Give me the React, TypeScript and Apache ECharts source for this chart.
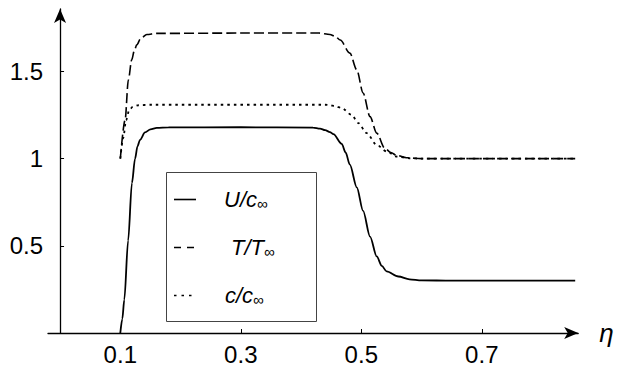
import React, { useEffect, useRef } from "react";
import * as echarts from "echarts";

// ---- data ----
const etaU = [0.1, 0.1033, 0.1066, 0.113, 0.1193, 0.1245, 0.1285, 0.1328, 0.141, 0.15, 0.1605, 0.18, 0.3, 0.42, 0.4315, 0.44, 0.448, 0.4537, 0.4675, 0.474, 0.481, 0.4925, 0.503, 0.5145, 0.5256, 0.534, 0.542, 0.5615, 0.58, 0.6, 0.65, 0.855];
const valU = [0, 0.08, 0.19, 0.53, 0.86, 1.0, 1.07, 1.108, 1.15, 1.168, 1.176, 1.179, 1.18, 1.178, 1.172, 1.163, 1.152, 1.14, 1.085, 1.035, 0.965, 0.835, 0.7, 0.553, 0.439, 0.385, 0.353, 0.324, 0.308, 0.302, 0.3, 0.3];

const etaT = [0.1, 0.1079, 0.1134, 0.119, 0.1233, 0.1273, 0.134, 0.144, 0.16, 0.3, 0.43, 0.448, 0.457, 0.465, 0.481, 0.4925, 0.503, 0.5145, 0.5256, 0.539, 0.549, 0.559, 0.575, 0.6, 0.855];
const valT = [1.0, 1.22, 1.452, 1.567, 1.62, 1.652, 1.69, 1.712, 1.718, 1.72, 1.72, 1.712, 1.7, 1.68, 1.605, 1.509, 1.376, 1.241, 1.146, 1.06, 1.035, 1.018, 1.005, 1.0, 1.0];

const etaC = [0.1, 0.105, 0.1095, 0.115, 0.121, 0.1295, 0.15, 0.44, 0.448, 0.457, 0.4675, 0.484, 0.495, 0.509, 0.5256, 0.542, 0.559, 0.58, 0.6, 0.855];
const valC = [1.0, 1.12, 1.22, 1.28, 1.298, 1.306, 1.309, 1.309, 1.307, 1.3, 1.29, 1.251, 1.204, 1.146, 1.079, 1.041, 1.012, 1.002, 1.0, 1.0];

const seriesNames = ["U/c∞", "T/T∞", "c/c∞"];
const xTicks = [0.1, 0.3, 0.5, 0.7];
const yTicks = [0.5, 1, 1.5];
const xAxisName = "η";

const zip = (xs: number[], ys: number[]) => xs.map((x, i) => [x, ys[i]]);

const FONT = "Liberation Sans, Arial, sans-serif";

export default function App() {
  const ref = useRef<HTMLDivElement>(null);
  useEffect(() => {
    document.body.style.margin = "0";
    const chart = echarts.init(ref.current!, null, { renderer: "svg" });
    const lineBase = { type: "line" as const, symbol: "none", showSymbol: false, smooth: 0.3, smoothMonotone: "x" as const, z: 3 };
    const iconY = [199.5, 247.5, 295.5];
    const iconDash: (number[] | null)[] = [null, [7, 6], [2.5, 5]];
    chart.setOption({
      animation: false,
      backgroundColor: "#fff",
      grid: { left: 48, right: 48.8, top: 9, bottom: 37, containLabel: false },
      xAxis: {
        type: "value",
        min: -0.02,
        max: 0.86,
        name: xAxisName,
        nameLocation: "end",
        nameGap: 21,
        nameTextStyle: { fontStyle: "italic", fontSize: 26, color: "#000", fontFamily: FONT },
        axisLine: { show: true, onZero: true, symbol: ["none", "arrow"], symbolSize: [9, 14], lineStyle: { color: "#000", width: 1.3 } },
        axisTick: { show: true, inside: true, length: 4, customValues: xTicks, lineStyle: { color: "#000", width: 1 } },
        axisLabel: { customValues: xTicks, formatter: (v: number) => String(v), fontSize: 24, color: "#000", fontFamily: FONT, margin: 9 },
        splitLine: { show: false },
      },
      yAxis: {
        type: "value",
        min: 0,
        max: 1.858,
        axisLine: { show: true, onZero: true, symbol: ["none", "arrow"], symbolSize: [9, 14], lineStyle: { color: "#000", width: 1.3 } },
        axisTick: { show: true, inside: true, length: 4, customValues: yTicks, lineStyle: { color: "#000", width: 1 } },
        axisLabel: { customValues: yTicks, formatter: (v: number) => String(v), fontSize: 24, color: "#000", fontFamily: FONT, margin: 5 },
        splitLine: { show: false },
      },
      legend: {
        orient: "vertical",
        left: 174,
        top: 187,
        padding: 0,
        icon: "none",
        itemWidth: 22,
        itemHeight: 14,
        itemGap: 24,
        data: seriesNames.map((n) => ({ name: n, icon: "none" })),
        formatter: (name: string) => {
          const base = name.slice(0, -1);
          const key = name === seriesNames[0] ? "u" : name === seriesNames[1] ? "t" : "c";
          return `{${key}|${base}}{s|∞}`;
        },
        textStyle: {
          color: "#000",
          fontFamily: FONT,
          lineHeight: 24,
          rich: {
            u: { fontStyle: "italic", fontSize: 22, lineHeight: 24, padding: [0, 0, 0, 23], fontFamily: FONT, color: "#000" },
            t: { fontStyle: "italic", fontSize: 22, lineHeight: 24, padding: [0, 0, 0, 30], fontFamily: FONT, color: "#000" },
            c: { fontStyle: "italic", fontSize: 22, lineHeight: 24, padding: [0, 0, 0, 24], fontFamily: FONT, color: "#000" },
            s: { fontSize: 15, lineHeight: 15, verticalAlign: "bottom", fontFamily: FONT, color: "#000" },
          },
        },
      },
      graphic: [
        {
          type: "rect",
          shape: { x: 166.5, y: 172.5, width: 150, height: 149 },
          style: { fill: "#fff", stroke: "#444", lineWidth: 1 },
          z: 2,
        },
        ...iconY.map((y, i) => ({
          type: "line",
          shape: { x1: 174, y1: y, x2: 196, y2: y },
          style: { stroke: "#000", lineWidth: 1.6, lineDash: iconDash[i] ?? undefined },
          z: 4,
        })),
      ],
      series: [
        { ...lineBase, name: seriesNames[0], data: zip(etaU, valU), lineStyle: { color: "#000", width: 1.8, type: "solid" }, itemStyle: { color: "#000" } },
        { ...lineBase, name: seriesNames[1], data: zip(etaT, valT), lineStyle: { color: "#000", width: 1.6, type: [10, 4] }, itemStyle: { color: "#000" } },
        { ...lineBase, name: seriesNames[2], data: zip(etaC, valC), lineStyle: { color: "#000", width: 1.8, type: [2.5, 4] }, itemStyle: { color: "#000" } },
      ],
    });
    return () => chart.dispose();
  }, []);
  return <div ref={ref} style={{ position: "absolute", left: 0, top: 0, width: 627, height: 370 }} />;
}
